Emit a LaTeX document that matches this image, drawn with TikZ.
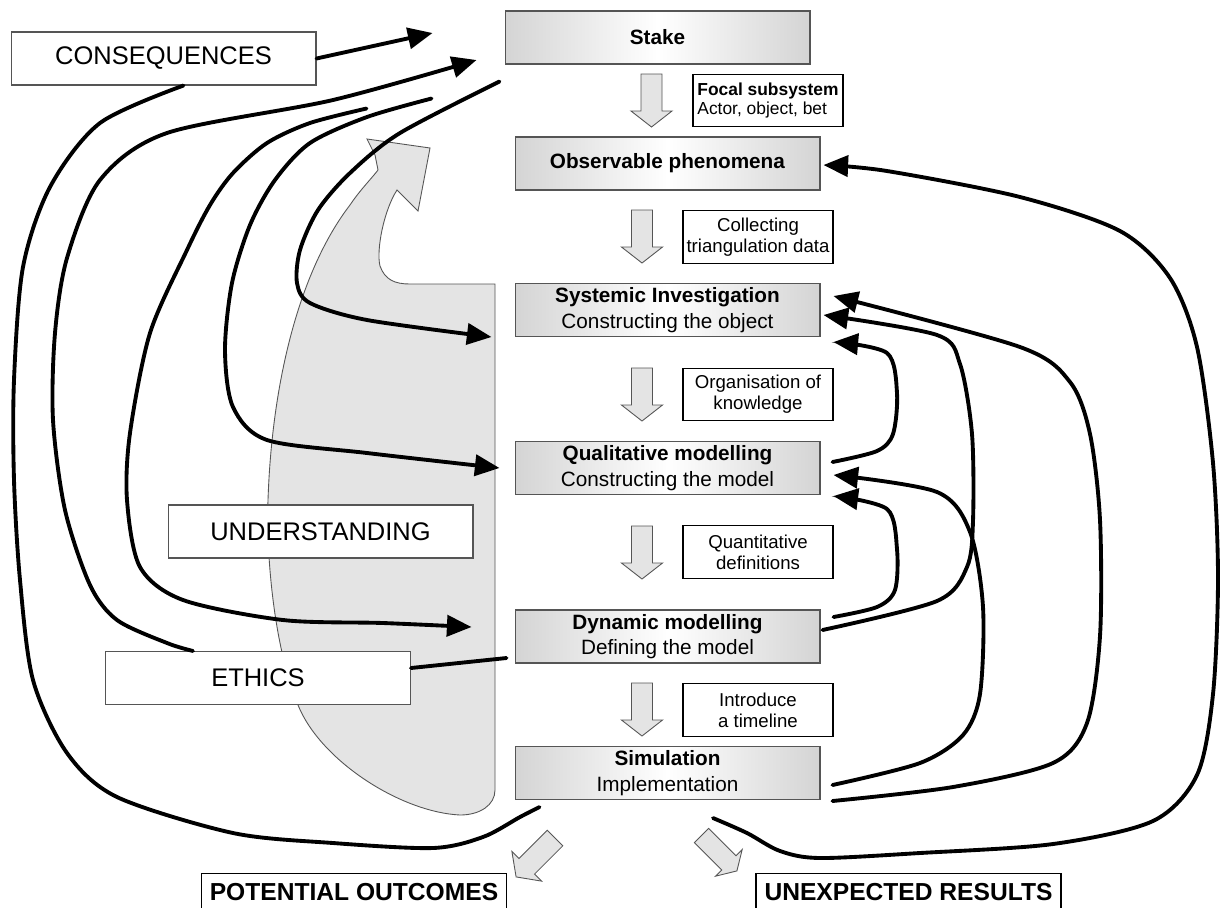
\documentclass[tikz,border=0pt]{standalone}
\usepackage{fontspec}
\setmainfont{Liberation Sans}
\usetikzlibrary{arrows.meta,calc}
\definecolor{boxgray}{RGB}{212,212,212}
\definecolor{shapegray}{RGB}{228,228,228}
\definecolor{edgegray}{RGB}{85,85,85}

\begin{document}
\begin{tikzpicture}[x=0.02cm, y=-0.02cm,
    stagebox/.style={draw=edgegray, line width=0.6pt, left color=boxgray, right color=boxgray, middle color=white,
                     minimum width=6.1cm, minimum height=1.06cm, inner sep=0pt, align=center,
                     font=\fontsize{11.8}{14.5}\selectfont},
    notebox/.style={draw=black, line width=0.6pt, fill=white, minimum width=3cm, minimum height=1.05cm,
                    inner sep=0pt, align=center, font=\fontsize{10.6}{12}\selectfont},
    themebox/.style={draw=edgegray, line width=0.6pt, fill=white, minimum width=6.1cm, minimum height=1.06cm,
                     font=\fontsize{14.5}{16}\selectfont},
    resultbox/.style={draw=black, line width=0.8pt, fill=white, minimum width=6.1cm, anchor=north,
                      inner ysep=3pt, text height=12.3pt, text depth=10pt, font=\bfseries\fontsize{14}{16}\selectfont},
    blockarrow/.style={draw=edgegray, line width=0.5pt, fill=shapegray},
    flowline/.style={line width=2.2pt, line cap=round},
    flowarrow/.style={flowline, -{Triangle[length=14pt,width=12pt]}}]
        \useasboundingbox (0,0) rectangle (1223,907);
        \clip (0,0) rectangle (1223,907);
        \fill[white] (0,0) rectangle (1223,907);

        % understanding shape
        \filldraw[blockarrow] (367,139) -- (430,148) -- (418,211) -- (397,190)
            .. controls (384,210) and (376,250) .. (380,266)
            .. controls (385,280) and (395,284) .. (410,284)
            -- (495,284) -- (495,790)
            .. controls (495,805) and (480,815) .. (460,815)
            .. controls (400,812) and (320,760) .. (298,705)
            .. controls (275,650) and (266,560) .. (268,500)
            .. controls (272,380) and (300,270) .. (350,205)
            .. controls (360,190) and (372,178) .. (378,170)
            -- (375,155) -- cycle;

        \node[stagebox] (stake) at (657.5,37.5)  {\textbf{Stake}};
        \node[stagebox] (obs)   at (667.5,163.5) {\textbf{Observable phenomena}};
        \node[stagebox] (sys)   at (667.5,310)   {\textbf{Systemic Investigation}\\Constructing the object};
        \node[stagebox] (qual)  at (667.5,468)   {\textbf{Qualitative modelling}\\Constructing the model};
        \node[stagebox] (dyn)   at (667.5,636.5) {\textbf{Dynamic modelling}\\Defining the model};
        \node[stagebox] (sim)   at (667.5,773)   {\textbf{Simulation}\\Implementation};

        \node[notebox, align=left, font=\fontsize{9.9}{11.3}\selectfont] (focal) at (768,100.5) {\textbf{Focal subsystem}\\Actor, object, bet};
        \node[notebox] (collect)  at (758,237)   {Collecting\\triangulation data};
        \node[notebox] (organise) at (758,394.5) {Organisation of\\knowledge};
        \node[notebox] (quant)    at (758,552)   {Quantitative\\definitions};
        \node[notebox] (timeline) at (758,710)   {Introduce\\a timeline};

        \node[themebox] (cons) at (163.5,58.5) {CONSEQUENCES};
        \node[themebox] (und)  at (320.5,531.5) {UNDERSTANDING};
        \node[themebox] (eth)  at (258,678)   {ETHICS};

        \node[resultbox] (pot)  at (354,873)   {POTENTIAL OUTCOMES};
        \node[resultbox] (unex) at (908.5,873) {UNEXPECTED RESULTS};

        % block arrows
        \foreach \x/\y in {651.5/74, 642/210, 642/368, 642/526, 642/683}
            \filldraw[blockarrow] (\x-10.5,\y) -- (\x+10.5,\y) -- (\x+10.5,\y+37) -- (\x+20.5,\y+37)
                -- (\x,\y+53) -- (\x-20.5,\y+37) -- (\x-10.5,\y+37) -- cycle;
        \filldraw[blockarrow] (562.8,845.8) -- (534.5,874.1) -- (541.5,881.1) -- (516.1,876.9)
            -- (511.9,851.5) -- (518.9,858.5) -- (547.2,830.2) -- cycle;
        \filldraw[blockarrow] (708.6,828.4) -- (735.9,855.7) -- (742.2,849.4) -- (736.9,870.9)
            -- (715.4,876.2) -- (721.7,869.9) -- (694.4,842.6) -- cycle;

        % left loops
        \draw[flowarrow] (cons.east) -- ($(stake.west)+(-72,-4.5)$);
        \draw[flowline] plot[smooth] coordinates {($(cons.south)+(20,0)$) (100,123) (50,187) (23,267) (14,380) (14,480)
            (20,580) (33,680) (67,753) (117,797) (233,833) (333,843) (433,848) (483,837) (520,817) ($(sim.south west)+(25,7)$)};
        \draw[flowarrow] plot[smooth] coordinates {($(eth.north)+(-65,0)$) (167,643) (117,620) (90,585) (65,510) (53,420)
            (55,333) (67,258) (100,180) (167,133) (333,100) ($(stake.west)+(-28,22.5)$)};
        \draw[flowarrow] plot[smooth] coordinates {($(stake.south west)+(-138,44)$) (310,123) (267,143) (233,173) (210,205)
            (187,250) (150,333) (130,433) (127,500) (140,567) (183,600) (283,620) (383,623) ($(dyn.west)+(-43,-9.5)$)};
        \draw[flowarrow] plot[smooth] coordinates {($(stake.south west)+(-73,34)$) (367,117) (310,143) (275,180) (250,225)
            (232,283) (225,350) (233,407) (267,440) (367,453) ($(qual.west)+(-15,0)$)};
        \draw[flowarrow] plot[smooth] coordinates {($(stake.south west)+(-5,17)$) (400,133) (350,173) (318,210) (300,250)
            (297,283) (310,303) (367,320) ($(sys.west)+(-23,27)$)};
        \draw[flowline] ($(eth.east)+(0,-10)$) -- ($(dyn.west)+(-8,21.5)$);

        % right loops
        \draw[flowarrow] plot[smooth] coordinates {($(sim.south)+(45.5,18)$) (747,833) (780,851) (820,858) (920,853)
            (1053,844) (1153,821) (1197,775) (1213,694) (1218,578) (1213,463) (1197,347) (1170,278) (1120,231)
            (1020,197) (887,171) ($(obs.east)+(3,1.5)$)};
        \draw[flowarrow] plot[smooth] coordinates {($(sim.east)+(12,28)$) (953,787) (1053,763) (1087,723) (1100,636)
            (1100,520) (1090,434) (1070,382) (1020,347) ($(sys.east)+(13,-14)$)};
        \draw[flowarrow] plot[smooth] coordinates {($(dyn.east)+(2,-6.5)$) (937,601) (967,567) (973,521) (972,434)
            (960,364) (937,335) ($(sys.east)+(3,5)$)};
        \draw[flowarrow] plot[smooth] coordinates {($(qual.east)+(12,-6)$) (877,451) (893,434) (897,393) (887,353)
            ($(sys.east)+(13,32)$)};
        \draw[flowarrow] plot[smooth] coordinates {($(sim.east)+(12,12)$) (920,763) (963,735) (980,694) (983,607)
            (970,532) (937,492) ($(qual.east)+(13,7)$)};
        \draw[flowarrow] plot[smooth] coordinates {($(dyn.east)+(13,-19.5)$) (877,607) (895,590) (897,549) (887,509)
            ($(qual.east)+(13,28)$)};
\end{tikzpicture}
\end{document}
